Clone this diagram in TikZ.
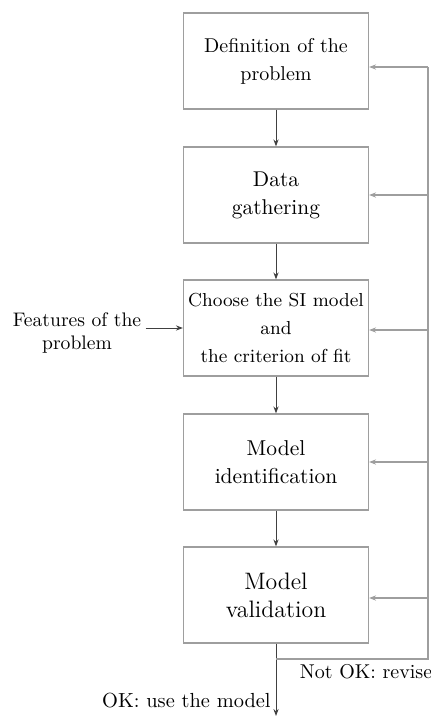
\documentclass[tikz,border=0pt]{standalone}
\usetikzlibrary{arrows.meta}
\tikzset{
  stepbox/.style={draw=black!38, line width=0.6pt, minimum width=92.5pt, minimum height=48pt,
    inner sep=0pt, align=center, font=\fontsize{10}{14}\selectfont},
  txt/.style={align=center, inner sep=0pt, font=\fontsize{10}{14}\selectfont},
  flow/.style={draw=black!75, line width=0.5pt, -{Stealth[length=3.5pt,width=2.6pt]}},
  fb/.style={draw=black!38, line width=0.6pt},
  fbarrow/.style={draw=black!38, line width=0.6pt, -{Stealth[length=3.5pt,width=2.6pt,fill=black!75]}}
}
\begin{document}
\begin{tikzpicture}[x=0.5pt,y=-0.5pt]
\useasboundingbox (0,0) rectangle (430,718);
\node[stepbox] (b1) at (276,61) {Definition of the\\problem};
\node[stepbox, font=\fontsize{10.7}{14}\selectfont] (b2) at (276,195) {Data\\gathering};
\node[stepbox, font=\fontsize{9.4}{14}\selectfont] (b3) at (276,328) {Choose the SI model\\and\\the criterion of fit};
\node[stepbox, font=\fontsize{10.75}{14}\selectfont] (b4) at (276,462) {Model\\identification};
\node[stepbox, font=\fontsize{11.9}{14}\selectfont] (b5) at (276,595) {Model\\validation};
\node[txt, font=\fontsize{9.8}{11.5}\selectfont] (feat) at (77,333) {Features of the\\problem};
\coordinate (split) at (276,659);
\coordinate (corner) at (428,659);
\coordinate (out) at (276,716);
\coordinate (r1) at (428,67);
\coordinate (r2) at (428,195);
\coordinate (r3) at (428,330);
\coordinate (r4) at (428,462);
\coordinate (r5) at (428,598);
\node[txt] (nok) at (366,672) {Not OK: revise};
\node[txt, anchor=east, font=\fontsize{10.2}{14}\selectfont] (ok) at (271,701) {OK: use the model};
\draw[flow] (b1) -- (b2);
\draw[flow] (b2) -- (b3);
\draw[flow] (b3) -- (b4);
\draw[flow] (b4) -- (b5);
\draw[flow] (b5.south) -- (out);
\draw[flow] (feat.east |- b3.west) ++(4,0) -- (b3.west);
\draw[fb] (split) -- (corner) -- (r1);
\draw[fbarrow] (r1) -- (r1 -| b1.east);
\draw[fbarrow] (r2) -- (r2 -| b2.east);
\draw[fbarrow] (r3) -- (r3 -| b3.east);
\draw[fbarrow] (r4) -- (r4 -| b4.east);
\draw[fbarrow] (r5) -- (r5 -| b5.east);
\end{tikzpicture}
\end{document}
